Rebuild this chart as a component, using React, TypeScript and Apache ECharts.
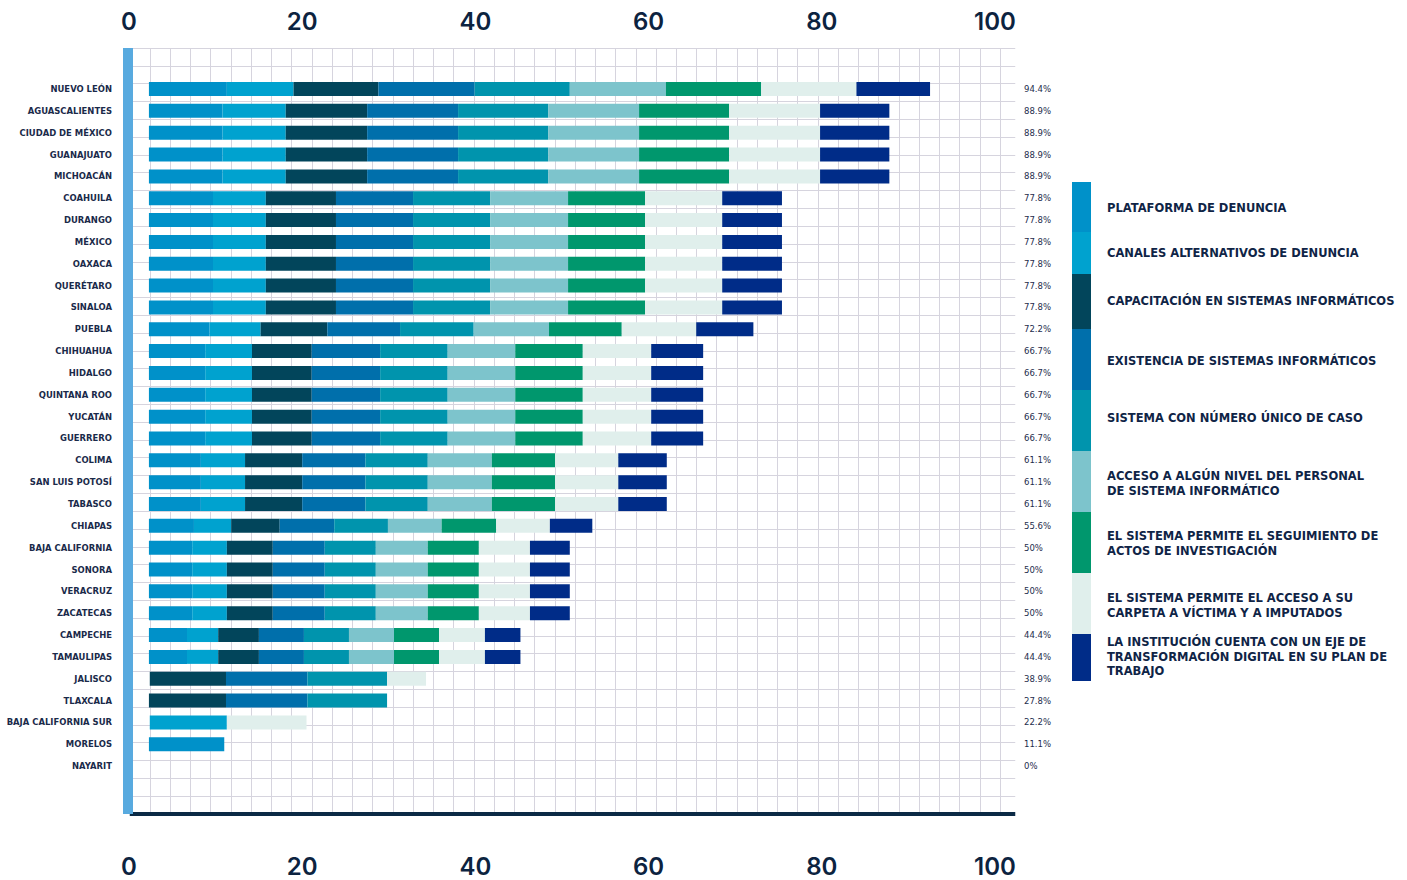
import React, { useEffect, useRef } from "react";
import * as echarts from "echarts";

const states = [
  "NUEVO LEÓN", "AGUASCALIENTES", "CIUDAD DE MÉXICO", "GUANAJUATO", "MICHOACÁN",
  "COAHUILA", "DURANGO", "MÉXICO", "OAXACA", "QUERÉTARO", "SINALOA", "PUEBLA",
  "CHIHUAHUA", "HIDALGO", "QUINTANA ROO", "YUCATÁN", "GUERRERO", "COLIMA",
  "SAN LUIS POTOSÍ", "TABASCO", "CHIAPAS", "BAJA CALIFORNIA", "SONORA", "VERACRUZ",
  "ZACATECAS", "CAMPECHE", "TAMAULIPAS", "JALISCO", "TLAXCALA", "BAJA CALIFORNIA SUR",
  "MORELOS", "NAYARIT",
];

const totals = [
  "94.4%", "88.9%", "88.9%", "88.9%", "88.9%",
  "77.8%", "77.8%", "77.8%", "77.8%", "77.8%", "77.8%", "72.2%",
  "66.7%", "66.7%", "66.7%", "66.7%", "66.7%", "61.1%",
  "61.1%", "61.1%", "55.6%", "50%", "50%", "50%",
  "50%", "44.4%", "44.4%", "38.9%", "27.8%", "22.2%",
  "11.1%", "0%",
];

// blank lead-in before each bar (drawn transparent)
const baseGap = [2.3, 2.3, 2.3, 2.3, 2.3, 2.3, 2.3, 2.3, 2.3, 2.3, 2.3, 2.3, 2.3, 2.3, 2.3, 2.3, 2.3, 2.3, 2.3, 2.3, 2.3, 2.3, 2.3, 2.3, 2.3, 2.3, 2.3, 2.4, 2.3, 2.4, 2.3, 2.3];

const plataforma = [9.0, 8.5, 8.5, 8.5, 8.5, 7.4, 7.4, 7.4, 7.4, 7.4, 7.4, 7.0, 6.5, 6.5, 6.5, 6.5, 6.5, 6.0, 6.0, 6.0, 5.2, 5.0, 5.0, 5.0, 5.0, 4.4, 4.4, 0, 0, 0, 8.7, 0];
const canales = [7.7, 7.3, 7.3, 7.3, 7.3, 6.1, 6.1, 6.1, 6.1, 6.1, 6.1, 5.9, 5.4, 5.4, 5.4, 5.4, 5.4, 5.1, 5.1, 5.1, 4.3, 4.0, 4.0, 4.0, 4.0, 3.6, 3.6, 0, 0, 8.9, 0, 0];
const capacitacion = [9.8, 9.4, 9.4, 9.4, 9.4, 8.1, 8.1, 8.1, 8.1, 8.1, 8.1, 7.7, 6.9, 6.9, 6.9, 6.9, 6.9, 6.6, 6.6, 6.6, 5.6, 5.3, 5.3, 5.3, 5.3, 4.7, 4.7, 8.8, 8.9, 0, 0, 0];
const existencia = [11.1, 10.5, 10.5, 10.5, 10.5, 8.9, 8.9, 8.9, 8.9, 8.9, 8.9, 8.4, 7.9, 7.9, 7.9, 7.9, 7.9, 7.3, 7.3, 7.3, 6.3, 6.0, 6.0, 6.0, 6.0, 5.2, 5.2, 9.4, 9.4, 0, 0, 0];
const numeroUnico = [11.0, 10.4, 10.4, 10.4, 10.4, 8.9, 8.9, 8.9, 8.9, 8.9, 8.9, 8.5, 7.8, 7.8, 7.8, 7.8, 7.8, 7.2, 7.2, 7.2, 6.2, 5.9, 5.9, 5.9, 5.9, 5.2, 5.2, 9.2, 9.2, 0, 0, 0];
const accesoPersonal = [11.1, 10.5, 10.5, 10.5, 10.5, 9.0, 9.0, 9.0, 9.0, 9.0, 9.0, 8.7, 7.8, 7.8, 7.8, 7.8, 7.8, 7.4, 7.4, 7.4, 6.2, 6.0, 6.0, 6.0, 6.0, 5.2, 5.2, 0, 0, 0, 0, 0];
const seguimiento = [11.0, 10.4, 10.4, 10.4, 10.4, 8.9, 8.9, 8.9, 8.9, 8.9, 8.9, 8.4, 7.8, 7.8, 7.8, 7.8, 7.8, 7.3, 7.3, 7.3, 6.3, 5.9, 5.9, 5.9, 5.9, 5.2, 5.2, 0, 0, 0, 0, 0];
const accesoCarpeta = [11.0, 10.5, 10.5, 10.5, 10.5, 8.9, 8.9, 8.9, 8.9, 8.9, 8.9, 8.6, 7.9, 7.9, 7.9, 7.9, 7.9, 7.3, 7.3, 7.3, 6.2, 5.9, 5.9, 5.9, 5.9, 5.3, 5.3, 4.5, 0, 9.2, 0, 0];
const ejeDigital = [8.5, 8.0, 8.0, 8.0, 8.0, 6.9, 6.9, 6.9, 6.9, 6.9, 6.9, 6.6, 6.0, 6.0, 6.0, 6.0, 6.0, 5.6, 5.6, 5.6, 4.9, 4.6, 4.6, 4.6, 4.6, 4.1, 4.1, 0, 0, 0, 0, 0];

const indicatorNames = [
  "PLATAFORMA DE DENUNCIA",
  "CANALES ALTERNATIVOS DE DENUNCIA",
  "CAPACITACIÓN EN SISTEMAS INFORMÁTICOS",
  "EXISTENCIA DE SISTEMAS INFORMÁTICOS",
  "SISTEMA CON NÚMERO ÚNICO DE CASO",
  "ACCESO A ALGÚN NIVEL DEL PERSONAL\nDE SISTEMA INFORMÁTICO",
  "EL SISTEMA PERMITE EL SEGUIMIENTO DE\nACTOS DE INVESTIGACIÓN",
  "EL SISTEMA PERMITE EL ACCESO A SU\nCARPETA A VÍCTIMA Y A IMPUTADOS",
  "LA INSTITUCIÓN CUENTA CON UN EJE DE\nTRANSFORMACIÓN DIGITAL EN SU PLAN DE\nTRABAJO",
];
const indicatorValues = [plataforma, canales, capacitacion, existencia, numeroUnico, accesoPersonal, seguimiento, accesoCarpeta, ejeDigital];
const indicatorColors = ["#0091c9", "#00a2cf", "#02455b", "#006fab", "#0094ad", "#7dc4cc", "#00976d", "#e0efec", "#002c88"];

// legend layout (px)
const legendEdges = [182, 232, 274, 329, 390, 451, 512, 573, 634, 681];
const legendTextY = [207.5, 252.5, 300.5, 361, 418.3, 483.5, 543.7, 605.8, 656.7];

const NAVY = "#0f2446";

export default function App() {
  const ref = useRef<HTMLDivElement>(null);
  useEffect(() => {
    if (!ref.current) return;
    const chart = echarts.init(ref.current, undefined, { renderer: "svg" });

    const series: any[] = [
      {
        name: "base",
        type: "bar",
        stack: "total",
        xAxisIndex: 0,
        yAxisIndex: 0,
        barWidth: 14,
        silent: true,
        itemStyle: { color: "rgba(0,0,0,0)" },
        data: baseGap,
      },
      ...indicatorNames.map((n, i) => ({
        name: n,
        type: "bar",
        stack: "total",
        xAxisIndex: 0,
        yAxisIndex: 0,
        barWidth: 14,
        itemStyle: { color: indicatorColors[i] },
        data: indicatorValues[i],
      })),
    ];

    const graphic: any[] = [];
    indicatorNames.forEach((n, i) => {
      graphic.push({
        type: "rect",
        shape: { x: 1072, y: legendEdges[i], width: 19, height: legendEdges[i + 1] - legendEdges[i] },
        style: { fill: indicatorColors[i] },
      });
      graphic.push({
        type: "text",
        x: 1107,
        y: legendTextY[i],
        style: {
          text: n,
          fill: NAVY,
          fontSize: 11.5,
          fontWeight: "bold",
          fontFamily: "DejaVu Sans",
          lineHeight: 14.8,
          verticalAlign: "middle",
          align: "left",
        },
      });
    });

    const numLabel = {
      fontSize: 24,
      fontWeight: 600,
      fontFamily: "Inter",
      color: "#0c2340",
    };

    chart.setOption({
      animation: false,
      backgroundColor: "#ffffff",
      grid: [
        { left: 129, width: 866, top: 78.1, height: 698.9 },
        { left: 129.76, width: 885.5, top: 48, height: 766 },
      ],
      xAxis: [
        {
          gridIndex: 0, type: "value", min: 0, max: 100, interval: 20, position: "bottom",
          axisLine: { show: false }, axisTick: { show: false }, splitLine: { show: false },
          axisLabel: { ...numLabel, margin: 77 },
        },
        {
          gridIndex: 0, type: "value", min: 0, max: 100, interval: 20, position: "top",
          axisLine: { show: false }, axisTick: { show: false }, splitLine: { show: false },
          axisLabel: { ...numLabel, margin: 45 },
        },
        {
          gridIndex: 1, type: "value", min: 0, max: 43.75, interval: 1, position: "bottom",
          axisLine: { show: true, onZero: false, lineStyle: { color: "#0b2a45", width: 4, cap: "butt" } },
          axisTick: { show: false }, axisLabel: { show: false },
          splitLine: { show: true, showMinLine: false, showMaxLine: false, lineStyle: { color: "#d6d4de", width: 1 } },
          z: 0,
        },
      ],
      yAxis: [
        {
          gridIndex: 0, type: "category", data: states, inverse: true,
          axisLine: { show: false }, axisTick: { show: false }, splitLine: { show: false },
          axisLabel: { margin: 17, fontSize: 8.45, fontWeight: "bold", fontFamily: "DejaVu Sans", color: "#1a2a4a" },
        },
        {
          gridIndex: 0, type: "category", data: totals, inverse: true, position: "right",
          axisLine: { show: false }, axisTick: { show: false }, splitLine: { show: false },
          axisLabel: { margin: 29, align: "left", fontSize: 8.5, fontFamily: "DejaVu Sans", color: "#1d2c4c" },
        },
        {
          gridIndex: 1, type: "value", min: 0, max: 43, interval: 1, offset: 1.76,
          axisLine: { show: true, onZero: false, lineStyle: { color: "#58aadf", width: 10, cap: "butt" } },
          axisTick: { show: false }, axisLabel: { show: false },
          splitLine: { show: true, showMinLine: false, lineStyle: { color: "#d6d4de", width: 1 } },
          z: 1,
        },
      ],
      series,
      graphic,
    });
    return () => chart.dispose();
  }, []);
  return (
    <div
      ref={ref}
      style={{ position: "fixed", left: 0, top: 0, width: 1407, height: 880, background: "#fff" }}
    />
  );
}
